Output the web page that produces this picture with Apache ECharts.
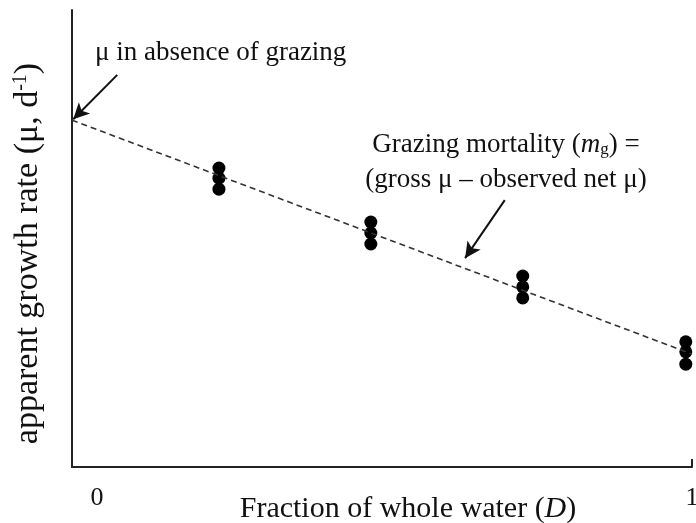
<!DOCTYPE html>
<html><head><meta charset="utf-8">
<script src="https://cdn.jsdelivr.net/npm/echarts@6/dist/echarts.min.js"></script>
<style>html,body{margin:0;padding:0;background:#fff}#c{width:696px;height:523px}</style>
</head><body><div id="c"></div>
<script>
// Data (fraction of whole water D vs apparent growth rate, arbitrary units)
const xTicks = [0, 1];
const fractions = [0.237, 0.482, 0.727, 0.99];
const rep1 = [0.654, 0.536, 0.418, 0.274];
const rep2 = [0.632, 0.512, 0.394, 0.252];
const rep3 = [0.608, 0.488, 0.370, 0.225];
const fitX = [0, 1];
const fitY = [0.759, 0.247];
const arrow1 = [[0.073, 0.858], [0.002, 0.761]];
const arrow2 = [[0.698, 0.584], [0.634, 0.457]];

const pts = [];
fractions.forEach((f, i) => { pts.push([f, rep1[i]], [f, rep2[i]], [f, rep3[i]]); });
const fit = fitX.map((x, i) => [x, fitY[i]]);

const FONT = 'Liberation Serif';
const chart = echarts.init(document.getElementById('c'));
chart.setOption({
  animation: false,
  grid: { left: 72, right: 4, top: 10, bottom: 56, outerBoundsMode: 'none', containLabel: false },
  xAxis: {
    type: 'value', min: 0, max: 1, interval: 1,
    axisLine: { lineStyle: { color: '#222', width: 2 } },
    axisTick: { show: true, inside: true, length: 8, lineStyle: { color: '#222', width: 2 } },
    splitLine: { show: false },
    axisLabel: {
      margin: 18, fontFamily: FONT, fontSize: 26, color: '#111',
      formatter: v => v === xTicks[0] ? '{z|0}' : '{o|1}',
      rich: { z: { padding: [0, 0, 0, 50], fontFamily: FONT, fontSize: 26, color: '#111' },
              o: { fontFamily: FONT, fontSize: 26, color: '#111' } }
    },
    name: '{n|Fraction of whole water (}{i|D}{n|)}',
    nameLocation: 'middle', nameGap: 27, nameMoveOverlap: false,
    nameTextStyle: {
      padding: [0, 0, 0, 52],
      rich: { n: { fontFamily: FONT, fontSize: 30, color: '#111' },
              i: { fontFamily: FONT, fontSize: 30, fontStyle: 'italic', color: '#111' } }
    }
  },
  yAxis: {
    type: 'value', min: 0, max: 1,
    axisLine: { show: true, lineStyle: { color: '#222', width: 2 } },
    axisTick: { show: false }, axisLabel: { show: false }, splitLine: { show: false },
    name: '{n|apparent growth rate (μ, d}{s|-1}{n|)}',
    nameLocation: 'middle', nameGap: 26, nameRotate: 90, nameMoveOverlap: false,
    nameTextStyle: {
      padding: [0, 30, 0, 0],
      rich: { n: { fontFamily: FONT, fontSize: 34, color: '#111' },
              s: { fontFamily: FONT, fontSize: 20, color: '#111', verticalAlign: 'top', padding: [0, 0, 15, 0] } }
    }
  },
  series: [
    {
      type: 'line', data: fit, symbol: 'none', silent: true,
      lineStyle: { color: '#333', width: 1.6, type: [6, 4] },
      markLine: {
        silent: true, symbol: ['none', 'arrow'], symbolSize: [12, 16],
        label: { show: false },
        lineStyle: { color: '#111', width: 2, type: 'solid' },
        data: [
          [{ coord: arrow1[0] }, { coord: arrow1[1] }],
          [{ coord: arrow2[0] }, { coord: arrow2[1] }]
        ]
      }
    },
    {
      type: 'scatter', data: pts, symbol: 'circle', symbolSize: 13,
      itemStyle: { color: '#000', opacity: 1 }
    }
  ],
  graphic: [
    { type: 'text', left: 95, top: 39, style: { text: 'μ in absence of grazing', font: '27px "Liberation Serif"', fill: '#111' } },
    { type: 'text', x: 506, y: 145, style: {
      text: '{n|Grazing mortality (}{i|m}{s|g}{n|) =}', align: 'center', verticalAlign: 'middle',
      rich: { n: { font: '27px "Liberation Serif"', fill: '#111' },
              i: { font: 'italic 27px "Liberation Serif"', fill: '#111' },
              s: { font: '17px "Liberation Serif"', fill: '#111', verticalAlign: 'bottom', padding: [10, 0, 0, 0] } } } },
    { type: 'text', x: 506, y: 180, style: { text: '(gross μ – observed net μ)', align: 'center', verticalAlign: 'middle', font: '27px "Liberation Serif"', fill: '#111' } }
  ]
});
</script></body></html>
